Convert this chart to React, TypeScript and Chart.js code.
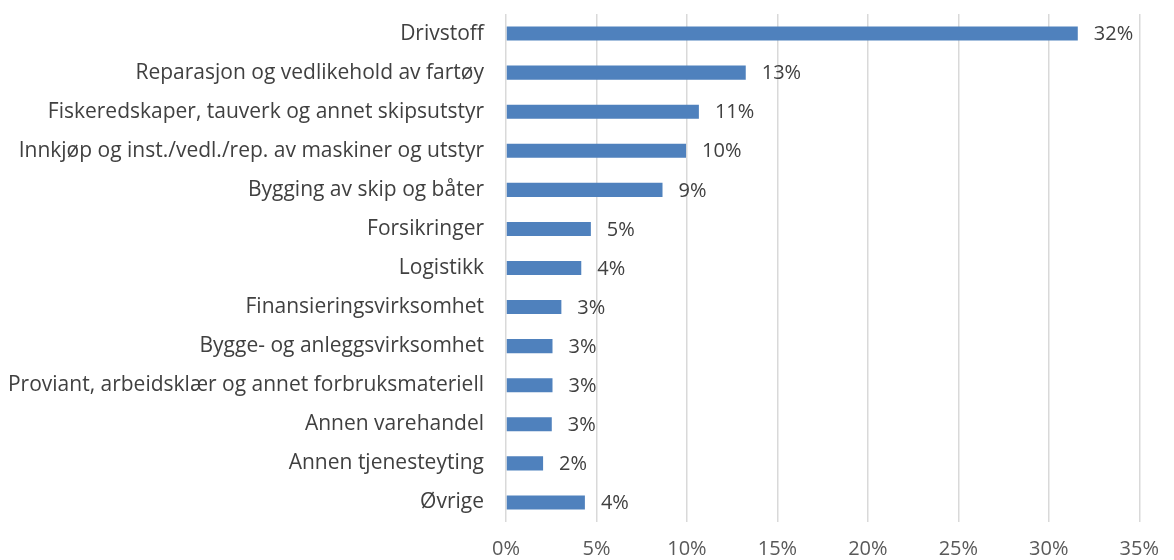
import React, { useEffect, useRef } from "react";
import { Chart, registerables } from "chart.js";

Chart.register(...registerables);

const categories = [
  "Drivstoff",
  "Reparasjon og vedlikehold av fartøy",
  "Fiskeredskaper, tauverk og annet skipsutstyr",
  "Innkjøp og inst./vedl./rep. av maskiner og utstyr",
  "Bygging av skip og båter",
  "Forsikringer",
  "Logistikk",
  "Finansieringsvirksomhet",
  "Bygge- og anleggsvirksomhet",
  "Proviant, arbeidsklær og annet forbruksmateriell",
  "Annen varehandel",
  "Annen tjenesteyting",
  "Øvrige",
];

const shares = [31.6, 13.25, 10.66, 9.95, 8.65, 4.69, 4.16, 3.06, 2.57, 2.57, 2.53, 2.05, 4.36];

const valueLabels = ["32%", "13%", "11%", "10%", "9%", "5%", "4%", "3%", "3%", "3%", "3%", "2%", "4%"];

const xTicks = [0, 5, 10, 15, 20, 25, 30, 35];

const FONT = "'Open Sans', sans-serif";

export default function App() {
  const ref = useRef<HTMLCanvasElement | null>(null);

  useEffect(() => {
    document.body.style.margin = "0";
    const ctx = ref.current;
    if (!ctx) return;

    const labelPlugin = {
      id: "valueLabels",
      afterDatasetsDraw(chart: any) {
        const c = chart.ctx;
        const meta = chart.getDatasetMeta(0);
        c.save();
        c.font = `20px ${FONT}`;
        c.fillStyle = "#404040";
        c.textAlign = "left";
        c.textBaseline = "middle";
        meta.data.forEach((el: any, i: number) => {
          c.fillText(valueLabels[i], el.x + 16, el.y + 1);
        });
        c.restore();
      },
    };

    const chart = new Chart(ctx, {
      type: "bar",
      data: {
        labels: categories,
        datasets: [
          {
            data: shares,
            backgroundColor: "#4f81bd",
            borderWidth: 0,
            categoryPercentage: 1,
            barPercentage: 0.36,
          },
        ],
      },
      plugins: [labelPlugin],
      options: {
        indexAxis: "y",
        animation: false,
        responsive: false,
        maintainAspectRatio: false,
        layout: { padding: { top: 14, right: 23, bottom: 0, left: 0 } },
        plugins: {
          legend: { display: false },
          tooltip: { enabled: false },
        },
        scales: {
          x: {
            min: 0,
            max: 35,
            afterBuildTicks(scale: any) {
              scale.ticks = xTicks.map((v) => ({ value: v }));
            },
            afterFit(scale: any) {
              scale.height = 38;
            },
            grid: {
              color: "#d9d9d9",
              lineWidth: 1.5,
              drawTicks: false,
            },
            border: { display: false },
            ticks: {
              padding: 15,
              color: "#595959",
              font: { family: FONT, size: 20 },
              callback: (v: any) => `${v}%`,
              maxRotation: 0,
            },
          },
          y: {
            afterFit(scale: any) {
              scale.width = 506;
              scale.paddingTop = 0;
              scale.paddingBottom = 0;
            },
            grid: { display: false, drawTicks: false },
            border: { display: false },
            ticks: {
              padding: 22,
              color: "#404040",
              font: { family: FONT, size: 21 },
              autoSkip: false,
            },
          },
        },
      },
    });

    return () => chart.destroy();
  }, []);

  return (
    <div style={{ width: 1174, height: 560 }}>
      <canvas ref={ref} width={1174} height={560} style={{ display: "block" }} />
    </div>
  );
}
